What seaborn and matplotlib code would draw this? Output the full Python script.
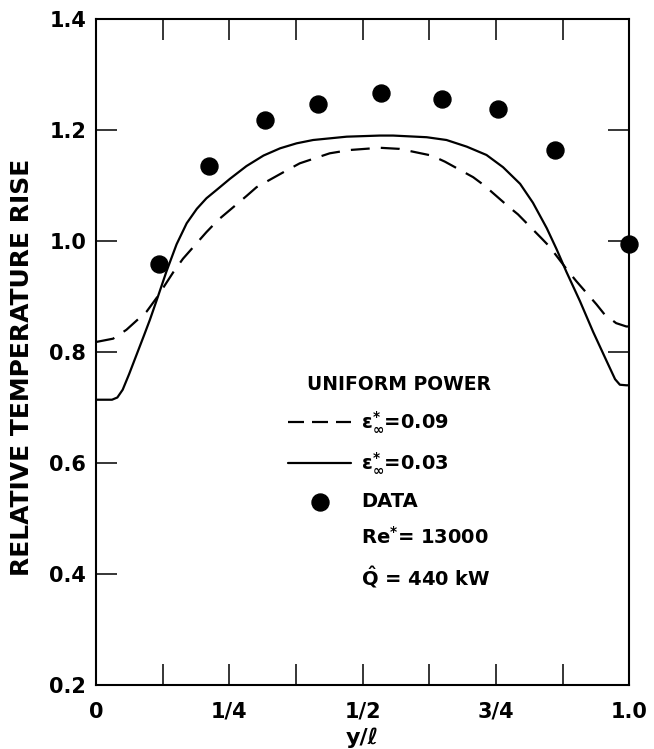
import numpy as np
import pandas as pd
import seaborn as sns
import matplotlib
matplotlib.use('Agg')
from matplotlib import pyplot as plt
from matplotlib.lines import Line2D
from matplotlib.ticker import FixedLocator

# data (y/l position vs relative temperature rise)
pos_03 = [0.0, 0.030, 0.040, 0.050, 0.062, 0.076, 0.090, 0.101, 0.114, 0.132,
          0.151, 0.170, 0.189, 0.207, 0.226, 0.251, 0.282, 0.314, 0.345, 0.376,
          0.407, 0.470, 0.532, 0.557, 0.620, 0.657, 0.695, 0.732, 0.763, 0.795,
          0.819, 0.845, 0.863, 0.882, 0.907, 0.932, 0.957, 0.973, 0.982, 0.994,
          1.0]
rise_03 = [0.714, 0.714, 0.718, 0.732, 0.760, 0.795, 0.830, 0.858, 0.894, 0.945,
           0.994, 1.032, 1.058, 1.077, 1.092, 1.112, 1.135, 1.154, 1.167, 1.176,
           1.182, 1.188, 1.190, 1.190, 1.187, 1.182, 1.170, 1.155, 1.133, 1.103,
           1.069, 1.023, 0.986, 0.944, 0.892, 0.836, 0.784, 0.751, 0.741, 0.740,
           0.740]

pos_09 = [0.0, 0.032, 0.057, 0.095, 0.114, 0.145, 0.163, 0.207, 0.229, 0.282,
          0.301, 0.357, 0.382, 0.438, 0.476, 0.532, 0.569, 0.629, 0.654, 0.707,
          0.728, 0.772, 0.791, 0.835, 0.850, 0.884, 0.900, 0.938, 0.953, 0.975,
          0.994, 1.0]
rise_09 = [0.818, 0.824, 0.840, 0.873, 0.898, 0.944, 0.968, 1.016, 1.038, 1.081,
           1.097, 1.127, 1.140, 1.158, 1.164, 1.168, 1.166, 1.154, 1.143, 1.115,
           1.100, 1.063, 1.048, 1.005, 0.990, 0.947, 0.928, 0.886, 0.868, 0.852,
           0.846, 0.846]

data_pos = [0.1175, 0.212, 0.317, 0.416, 0.534, 0.648, 0.754, 0.860, 1.0]
data_rise = [0.959, 1.135, 1.218, 1.246, 1.267, 1.255, 1.237, 1.164, 0.994]

x_ticks = [0, 0.25, 0.5, 0.75, 1.0]
x_ticklabels = ['0', '1/4', '1/2', '3/4', '1.0']
x_minor = [0.125, 0.375, 0.625, 0.875]
y_ticks = [0.2, 0.4, 0.6, 0.8, 1.0, 1.2, 1.4]
y_ticklabels = ['0.2', '0.4', '0.6', '0.8', '1.0', '1.2', '1.4']
right_ticks = [0.8, 1.0, 1.2]

sns.set_style('ticks')
plt.rcParams['font.family'] = ['DejaVu Sans']
plt.rcParams['font.weight'] = 'bold'
plt.rcParams['mathtext.fontset'] = 'dejavusans'
plt.rcParams['mathtext.default'] = 'bf'
plt.rcParams['text.color'] = 'black'
plt.rcParams['axes.labelcolor'] = 'black'
plt.rcParams['axes.labelweight'] = 'bold'
plt.rcParams['xtick.color'] = 'black'
plt.rcParams['ytick.color'] = 'black'

fig = plt.figure(figsize=(6.54, 7.49), dpi=100)
ax = fig.add_axes([0.1468, 0.0855, 0.8157, 0.8891])

sns.lineplot(x=pos_09, y=rise_09, ax=ax, color='black', lw=1.6,
             linestyle=(0, (8.5, 5)), label=r'$\epsilon^{*}_{\infty}$=0.09')
sns.lineplot(x=pos_03, y=rise_03, ax=ax, color='black', lw=1.6,
             label=r'$\epsilon^{*}_{\infty}$=0.03')
sns.scatterplot(x=data_pos, y=data_rise, ax=ax, color='black', s=150,
                edgecolor='black', label='DATA', clip_on=False, zorder=5)

ax.set_xlim(0, 1.0)
ax.set_ylim(0.2, 1.4)

ax.set_xticks(x_ticks)
ax.set_xticklabels(x_ticklabels)
ax.xaxis.set_minor_locator(FixedLocator(x_minor))
ax.set_yticks(y_ticks)
ax.set_yticklabels(y_ticklabels)

ax.tick_params(axis='both', which='both', direction='in', length=15, width=1.1,
               labelsize=15, color='black')
ax.tick_params(axis='x', which='both', top=True, pad=12)
ax.tick_params(axis='y', pad=7)

# right side only has a few ticks
sec = ax.secondary_yaxis('right')
sec.set_yticks(right_ticks)
sec.tick_params(direction='in', length=15, width=1.1, labelright=False)
sec.spines['right'].set_visible(False)

for sp in ax.spines.values():
    sp.set_linewidth(1.5)
    sp.set_color('black')

ax.set_xlabel('y/ℓ', fontsize=16)
ax.xaxis.set_label_coords(0.5, -0.064)
ax.set_ylabel('RELATIVE TEMPERATURE RISE', fontsize=18)
ax.yaxis.set_label_coords(-0.116, 0.477)

handles, labels = ax.get_legend_handles_labels()
blank = Line2D([], [], linestyle='none')
handles = handles + [blank, blank]
labels = labels + [r'Re$^{*}$= 13000', r'$\hat{Q}$ = 440 kW']
leg = ax.legend(handles, labels, title='UNIFORM POWER', loc='upper left',
                bbox_to_anchor=(0.36, 0.465), frameon=False, fontsize=14,
                title_fontsize=13.5, handlelength=3.25, handletextpad=0.5,
                labelspacing=0.8, borderpad=0, borderaxespad=0,
                alignment='right', markerscale=1.0)
leg.get_title().set_fontweight('bold')
# three whole dashes in the legend sample
leg.get_lines()[0].set_dashes((7.2, 3.6))

fig.savefig('out.png', dpi=100)
